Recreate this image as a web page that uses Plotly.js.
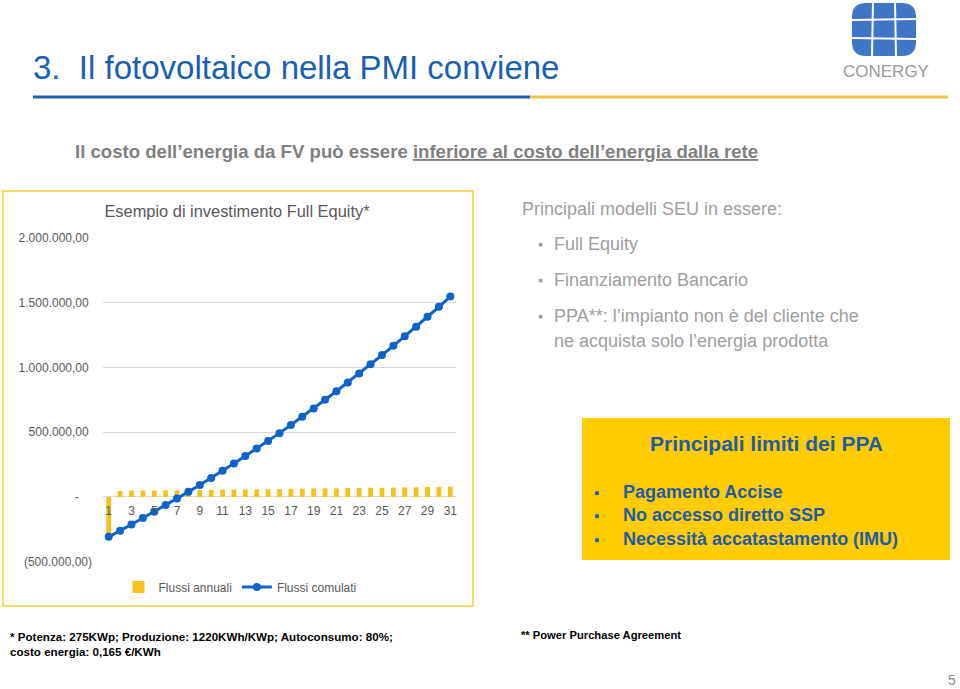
<!DOCTYPE html>
<html>
<head>
<meta charset="utf-8">
<script src="https://cdn.plot.ly/plotly-3.0.1.min.js"></script>
<style>html,body{margin:0;padding:0;background:#fff;}#chart{width:960px;height:689px;}</style>
</head>
<body>
<div id="chart"></div>
<script>
// ---- data ----
const years = [1,2,3,4,5,6,7,8,9,10,11,12,13,14,15,16,17,18,19,20,21,22,23,24,25,26,27,28,29,30,31];
const flussiAnnuali = [-308000, 46000, 49000, 50000, 49000, 51000, 51000, 51000, 53000, 54000, 56000, 56000, 57000, 58000, 59000, 60000, 63000, 63000, 65000, 66000, 66000, 68000, 70000, 71000, 70000, 72000, 73000, 74000, 77000, 77000, 79000];
const flussiCumulati = [-308000, -262000, -213000, -163000, -114000, -63000, -12000, 39000, 92000, 146000, 202000, 258000, 315000, 373000, 432000, 492000, 555000, 618000, 683000, 749000, 815000, 883000, 953000, 1024000, 1094000, 1166000, 1239000, 1313000, 1390000, 1467000, 1546000];
const xTickLabels = ['1','3','5','7','9','11','13','15','17','19','21','23','25','27','29','31'];
const yTickValues = [-500000, 0, 500000, 1000000, 1500000, 2000000];
const yTickLabels = ['(500.000,00)', '-\u00a0\u00a0\u00a0\u00a0', '500.000,00\u00a0', '1.000.000,00\u00a0', '1.500.000,00\u00a0', '2.000.000,00\u00a0'];
const seriesNames = ['Flussi annuali', 'Flussi comulati'];

// ---- helpers (page pixel -> paper) ----
const W = 960, H = 689;
const px = x => x / W;
const py = y => 1 - y / H;

const plotTop = 237.7, plotBot = 561.7;
const yDom = [py(plotBot), py(plotTop)];
const yRange = [-500000, 2000000];
const zeroPos = yDom[0] + (0 - yRange[0]) / (yRange[1] - yRange[0]) * (yDom[1] - yDom[0]);

const gray = '#595959';
const sans = '"Liberation Sans", Arial, sans-serif';

const traces = [
  {
    type: 'bar', x: years, y: flussiAnnuali, name: seriesNames[0],
    marker: {color: '#F7C01C'}, hoverinfo: 'skip'
  },
  {
    type: 'scatter', mode: 'lines+markers', x: years, y: flussiCumulati, name: seriesNames[1],
    line: {color: '#0E63C8', width: 3}, marker: {color: '#0E63C8', size: 8}, hoverinfo: 'skip'
  }
];

const ann = [];
function txt(text, x, y, size, color, opts) {
  ann.push(Object.assign({
    text: text, xref: 'paper', yref: 'paper', x: px(x), y: py(y),
    xanchor: 'left', yanchor: 'middle', showarrow: false,
    font: {family: sans, size: size, color: color}
  }, opts || {}));
}

// page title and subtitle
txt('3.  Il fotovoltaico nella PMI conviene', 31, 68, 33, '#1A5FB0');
txt('<b>Il costo dell\u2019energia da FV pu\u00f2 essere <u>inferiore al costo dell\u2019energia dalla rete</u></b>', 73, 152, 18.6, '#808080');

// right text block
const lg = '#9E9E9E';
txt('Principali modelli SEU in essere:', 520, 209, 18, lg);
const bulletsY = [244, 280, 316];
const bulletTexts = ['Full Equity', 'Finanziamento Bancario', 'PPA**: l\u2019impianto non \u00e8 del cliente che'];
bulletsY.forEach((y, i) => {
  txt('\u25aa', 536, y, 14, lg);
  txt(bulletTexts[i], 552, y, 18, lg);
});
txt('ne acquista solo l\u2019energia prodotta', 552, 341, 18, lg);

// yellow box texts
const blue = '#1F5BA8';
txt('<b>Principali limiti dei PPA</b>', 766, 443, 21, blue, {xanchor: 'center'});
const limY = [492, 515, 539];
const limTexts = ['Pagamento Accise', 'No accesso diretto SSP', 'Necessit\u00e0 accatastamento (IMU)'];
limY.forEach((y, i) => {
  txt('<b>\u25aa</b>', 592, y, 15, blue);
  txt('<b>' + limTexts[i] + '</b>', 621, y, 18, blue);
});

// footnotes
txt('<b>* Potenza: 275KWp; Produzione: 1220KWh/KWp; Autoconsumo: 80%;<br>costo energia: 0,165 \u20ac/KWh</b>', 8, 644, 11.6, '#000', {align: 'left'});
txt('<b>** Power Purchase Agreement</b>', 519, 635, 11.2, '#000');
txt('5', 946, 680, 14, '#8C8C8C');

// logo text
txt('CONERGY', 886, 72, 17, '#9A9A9A', {xanchor: 'center'});

const shapes = [
  // title divider
  {type: 'line', xref: 'paper', yref: 'paper', x0: px(33), x1: px(530), y0: py(97), y1: py(97), line: {color: '#1A5FB0', width: 3}},
  {type: 'line', xref: 'paper', yref: 'paper', x0: px(530), x1: px(948), y0: py(97), y1: py(97), line: {color: '#F2C24A', width: 3}},
  // chart frame
  {type: 'rect', xref: 'paper', yref: 'paper', x0: px(3), x1: px(473), y0: py(606), y1: py(191), line: {color: '#F6DA6C', width: 2}, fillcolor: 'rgba(0,0,0,0)', layer: 'below'},
  // yellow box
  {type: 'rect', xref: 'paper', yref: 'paper', x0: px(582), x1: px(950), y0: py(560), y1: py(418), line: {width: 0}, fillcolor: '#FFCC00', layer: 'below'},
  // logo globe
  {type: 'path', xref: 'paper', yref: 'paper', layer: 'above',
   path: 'M ' + px(866) + ' ' + py(3) + ' L ' + px(902) + ' ' + py(3) + ' Q ' + px(916) + ' ' + py(3) + ' ' + px(916) + ' ' + py(17) +
         ' L ' + px(916) + ' ' + py(42) + ' Q ' + px(916) + ' ' + py(56) + ' ' + px(902) + ' ' + py(56) +
         ' L ' + px(866) + ' ' + py(56) + ' Q ' + px(852) + ' ' + py(56) + ' ' + px(852) + ' ' + py(42) +
         ' L ' + px(852) + ' ' + py(17) + ' Q ' + px(852) + ' ' + py(3) + ' ' + px(866) + ' ' + py(3) + ' Z',
   fillcolor: '#3F76C6', line: {width: 0}},
  {type: 'line', xref: 'paper', yref: 'paper', x0: px(873), x1: px(872), y0: py(3), y1: py(56), line: {color: '#fff', width: 2}},
  {type: 'line', xref: 'paper', yref: 'paper', x0: px(895), x1: px(896), y0: py(3), y1: py(56), line: {color: '#fff', width: 2}},
  {type: 'line', xref: 'paper', yref: 'paper', x0: px(852), x1: px(916), y0: py(20), y1: py(19), line: {color: '#fff', width: 2}},
  {type: 'line', xref: 'paper', yref: 'paper', x0: px(852), x1: px(916), y0: py(38), y1: py(39), line: {color: '#fff', width: 2}}
];

const layout = {
  width: W, height: H, autosize: false,
  margin: {l: 0, r: 0, t: 0, b: 0, pad: 0},
  paper_bgcolor: '#fff', plot_bgcolor: 'rgba(0,0,0,0)',
  font: {family: sans, size: 12, color: gray},
  title: {text: 'Esempio di investimento Full Equity*', x: px(237), y: py(211), xanchor: 'center', yanchor: 'middle', xref: 'paper', yref: 'paper',
          font: {family: sans, size: 16.4, color: gray}},
  bargap: 0.58,
  xaxis: {
    domain: [px(103), px(456)], range: [0.5, 31.5], anchor: 'free', position: zeroPos,
    tickmode: 'array', tickvals: xTickLabels.map(Number), ticktext: xTickLabels,
    showgrid: false, zeroline: false, showline: false, ticks: '', ticklabelstandoff: 5,
    tickfont: {family: sans, size: 12, color: gray}, fixedrange: true
  },
  yaxis: {
    domain: yDom, range: yRange, anchor: 'x',
    tickmode: 'array', tickvals: yTickValues, ticktext: yTickLabels,
    showgrid: true, gridcolor: '#D9D9D9', gridwidth: 1,
    zeroline: true, zerolinecolor: '#D9D9D9', zerolinewidth: 1,
    showline: false, ticks: '', ticklabelstandoff: 10,
    tickfont: {family: sans, size: 12, color: gray}, fixedrange: true
  },
  showlegend: true,
  legend: {orientation: 'h', x: px(240), xanchor: 'center', y: py(587), yanchor: 'middle',
           font: {family: sans, size: 12, color: gray}, bgcolor: 'rgba(0,0,0,0)', itemwidth: 30},
  annotations: ann,
  shapes: shapes
};

Plotly.newPlot('chart', traces, layout, {displayModeBar: false, staticPlot: true});
</script>
</body>
</html>
